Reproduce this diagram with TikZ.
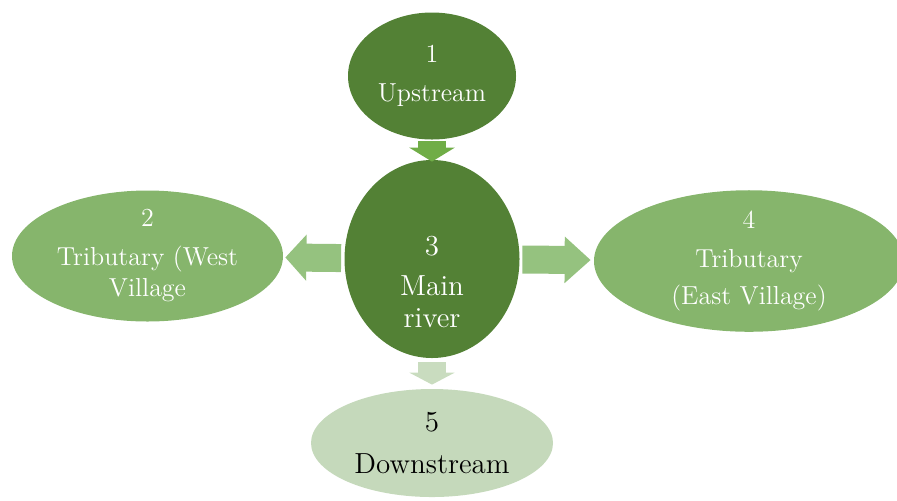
\documentclass[tikz,border=0pt]{standalone}
\usepackage{fontspec}
\usetikzlibrary{shapes.geometric,arrows.meta}
\definecolor{darkgreen}{HTML}{538135}
\definecolor{midgreen}{HTML}{86B56C}
\definecolor{palegreen}{HTML}{C5D9BB}
\definecolor{toparrow}{HTML}{70AD47}
\definecolor{sidearrow}{HTML}{95C27F}
\definecolor{downarrow}{HTML}{C9DCBF}
\tikzset{
  reach/.style={ellipse, inner sep=0pt, align=center, text=white,
    font=\fontsize{13}{15.5}\selectfont},
  blockarrow/.style={line width=14pt, -{Triangle[length=#1, width=22.5pt]}},
  blockarrow/.default=10pt
}
\begin{document}
\begin{tikzpicture}[x=0.5pt,y=-0.5pt]
\useasboundingbox (0,0) rectangle (897,500);
\node[reach, fill=darkgreen, minimum width=84pt, minimum height=63.5pt](up) at (432,76) {1\\[4pt]Upstream};
\node[reach, fill=darkgreen, minimum width=87.5pt, minimum height=99pt](main) at (432,259) {};
\node[align=center, text=white, font=\fontsize{14.5}{16}\selectfont](mainlbl) at (432,282) {3\\[4pt]Main\\river};
\node[reach, fill=midgreen, minimum width=135.5pt, minimum height=64pt](west) at (147.5,256) {2\\[4pt]Tributary (West\\Village};
\node[reach, fill=midgreen, minimum width=155pt, minimum height=64.5pt](east) at (749,261) {4\\[4pt]Tributary\\[3pt](East Village)};
\node[reach, fill=palegreen, text=black, minimum width=121pt, minimum height=54pt,
  font=\fontsize{14.5}{17}\selectfont](down) at (432,443) {5\\[4pt]Downstream};
%
\draw[blockarrow=7pt, toparrow, shorten <=0.5pt, shorten >=-1pt](up) -- (main);
\draw[blockarrow=10.5pt, sidearrow, shorten <=1.5pt, shorten >=1pt](main) -- (west);
\draw[blockarrow=13pt, sidearrow, shorten <=1.25pt, shorten >=1.5pt](main) -- (east);
\draw[blockarrow=6pt, downarrow, shorten <=2pt, shorten >=2pt](main) -- (down);
\end{tikzpicture}
\end{document}
